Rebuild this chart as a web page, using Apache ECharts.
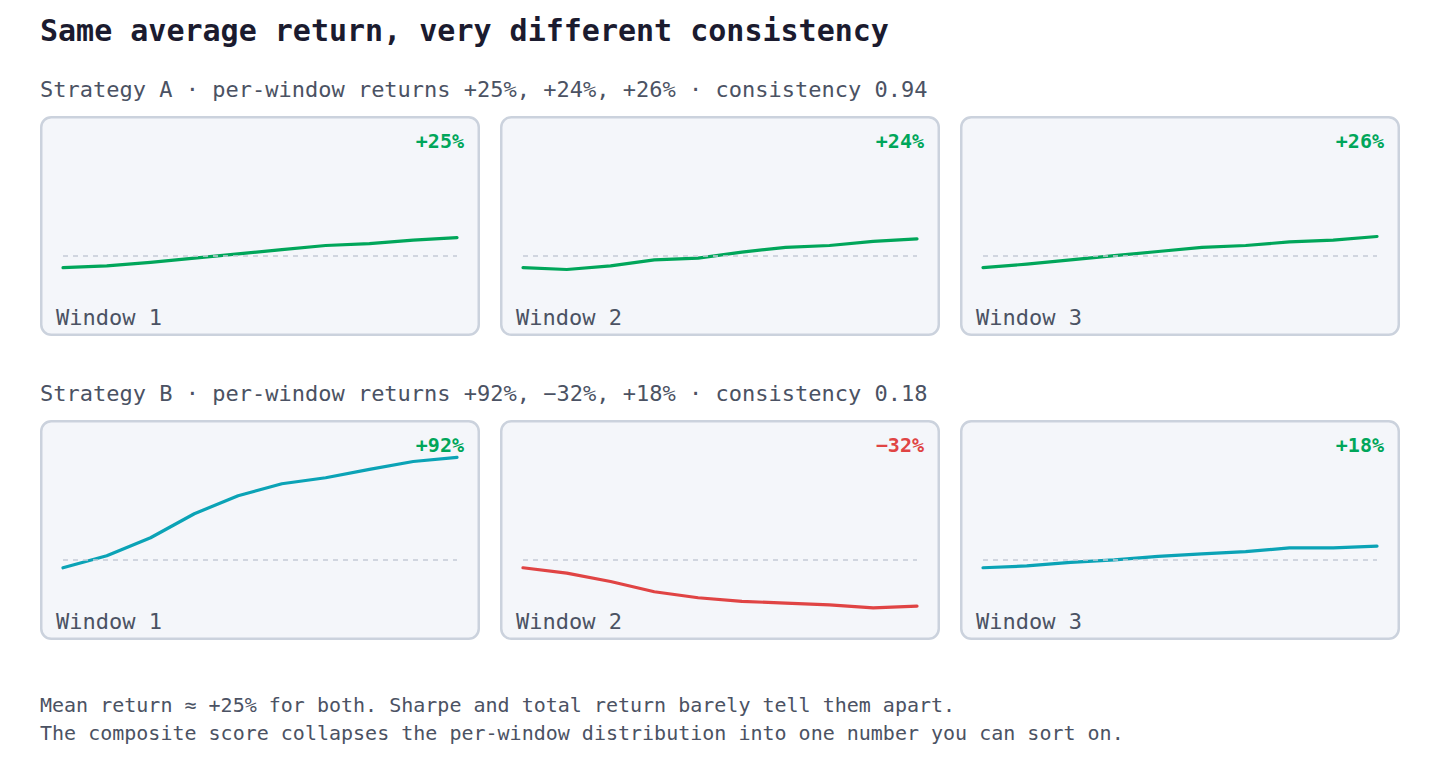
<!DOCTYPE html>
<html>
<head>
<meta charset="utf-8">
<title>Same average return, very different consistency</title>
<script src="https://cdn.jsdelivr.net/npm/echarts@6/dist/echarts.min.js"></script>
<style>
  html, body { margin: 0; padding: 0; background: #ffffff; }
  #chart { width: 1440px; height: 760px; }
</style>
</head>
<body>
<div id="chart"></div>
<script>
// cumulative return (%) inside each window, 10 steps
const steps = ['0', '1', '2', '3', '4', '5', '6', '7', '8', '9'];

const stratA_w1 = [0, 1.5, 4.5, 8, 11.5, 15, 18.5, 20, 23, 25];
const stratA_w2 = [0, -1.5, 1.5, 6.5, 8, 13, 17, 18.5, 22, 24];
const stratA_w3 = [0, 3, 6.5, 10, 13.5, 17, 18.5, 21.5, 23, 26];

const stratB_w1 = [0, 10, 25, 45, 60, 70, 75, 82, 88.5, 92];
const stratB_w2 = [0, -4.5, -11.5, -20, -25, -28, -29.5, -31, -33.5, -32];
const stratB_w3 = [0, 1.5, 4.5, 6.5, 9.5, 11.5, 13.5, 16.5, 16.5, 18];

const windowLabels = ['Window 1', 'Window 2', 'Window 3'];
const returnLabelsA = ['+25%', '+24%', '+26%'];
const returnLabelsB = ['+92%', '\u221232%', '+18%'];

const titleText = 'Same average return, very different consistency';
const subtitleA = 'Strategy A \u00b7 per-window returns +25%, +24%, +26% \u00b7 consistency 0.94';
const subtitleB = 'Strategy B \u00b7 per-window returns +92%, \u221232%, +18% \u00b7 consistency 0.18';
const footerLines = [
  'Mean return \u2248 +25% for both. Sharpe and total return barely tell them apart.',
  'The composite score collapses the per-window distribution into one number you can sort on.'
];

// y ranges per row and the dashed reference level
const rowAxisA = [-31.9, 101.4];
const rowAxisB = [-35.2, 98.1];
const refLevelA = 9.75;
const refLevelB = 6.4;

const GREEN = '#00a65a';
const TEAL = '#0ba3b6';
const RED = '#e04444';
const FONT = '"DejaVu Sans Mono", monospace';

const chart = echarts.init(document.getElementById('chart'), null, { renderer: 'svg' });

const rows = [
  { top: 116, data: [stratA_w1, stratA_w2, stratA_w3], labels: returnLabelsA, axis: rowAxisA, ref: refLevelA, colors: [GREEN, GREEN, GREEN] },
  { top: 420, data: [stratB_w1, stratB_w2, stratB_w3], labels: returnLabelsB, axis: rowAxisB, ref: refLevelB, colors: [TEAL, RED, TEAL] }
];

const grids = [], xAxes = [], yAxes = [], series = [];
const graphics = [];

graphics.push({
  type: 'text', left: 40, top: 15,
  style: { text: titleText, font: 'bold 30px ' + FONT, fill: '#1b1b2f' }
});
graphics.push({
  type: 'text', x: 40, y: 89,
  style: { text: subtitleA, font: '22px ' + FONT, fill: '#4b5263', textVerticalAlign: 'middle' }
});
graphics.push({
  type: 'text', x: 40, y: 393,
  style: { text: subtitleB, font: '22px ' + FONT, fill: '#4b5263', textVerticalAlign: 'middle' }
});
footerLines.forEach((line, i) => {
  graphics.push({
    type: 'text', x: 40, y: 705 + i * 28,
    style: { text: line, font: '20px ' + FONT, fill: '#4b5263', textVerticalAlign: 'middle' }
  });
});

rows.forEach((row, r) => {
  row.data.forEach((vals, c) => {
    const px = 40 + c * 460;
    const idx = grids.length;

    graphics.push({
      type: 'rect', z: -10,
      shape: { x: px + 1.25, y: row.top + 1.25, width: 437.5, height: 217.5, r: 10 },
      style: { fill: '#f4f6fa', stroke: '#cbd2dd', lineWidth: 2.5 }
    });
    graphics.push({
      type: 'text', x: px + 424, y: row.top + 25,
      style: {
        text: row.labels[c], font: 'bold 20px ' + FONT,
        fill: row.labels[c].startsWith('+') ? GREEN : RED,
        textAlign: 'right', textVerticalAlign: 'middle'
      }
    });
    graphics.push({
      type: 'text', x: px + 16, y: row.top + 201,
      style: { text: windowLabels[c], font: '22px ' + FONT, fill: '#4b5263', textVerticalAlign: 'middle' }
    });

    grids.push({ left: px + 23, top: row.top + 30, width: 394, height: 160 });
    xAxes.push({
      type: 'category', gridIndex: idx, data: steps, boundaryGap: false,
      show: false
    });
    yAxes.push({
      type: 'value', gridIndex: idx, min: row.axis[0], max: row.axis[1],
      show: false, splitLine: { show: false }
    });
    series.push({
      type: 'line', xAxisIndex: idx, yAxisIndex: idx, data: vals,
      showSymbol: false, smooth: false, silent: true,
      lineStyle: { color: row.colors[c], width: 3.2, cap: 'round', join: 'round' },
      markLine: {
        silent: true, symbol: 'none', label: { show: false },
        lineStyle: { color: '#c3cad6', width: 1.5, type: [5, 5] },
        data: [{ yAxis: row.ref }]
      },
      z: 3
    });
  });
});

chart.setOption({
  animation: false,
  backgroundColor: '#ffffff',
  grid: grids,
  xAxis: xAxes,
  yAxis: yAxes,
  series: series,
  graphic: graphics
});
</script>
</body>
</html>
